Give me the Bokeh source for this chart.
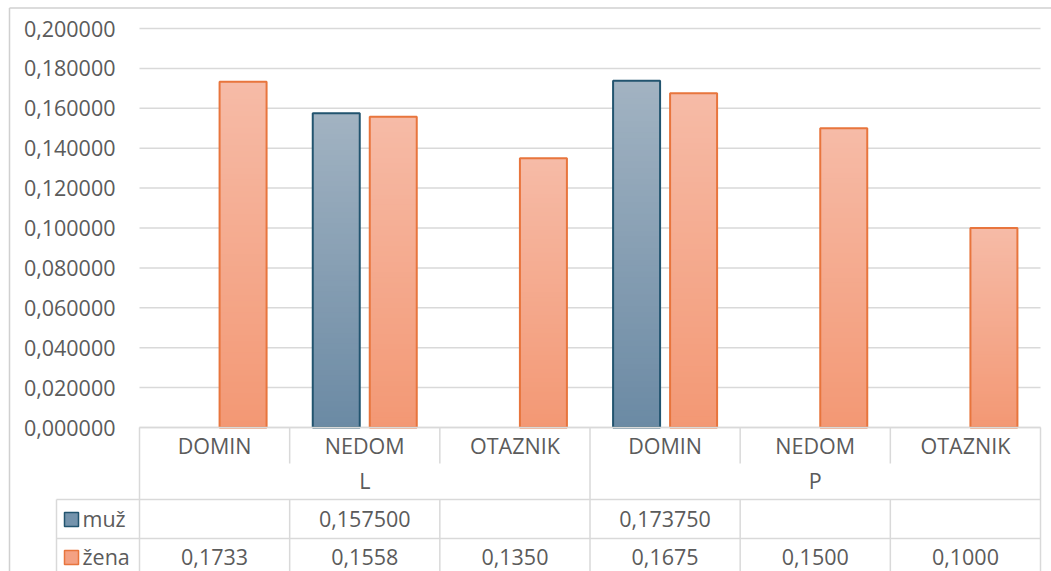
import numpy as np
from bokeh.plotting import figure
from bokeh.models import ColumnDataSource, Range1d
from bokeh.core.properties import value
from bokeh.embed import file_html
from bokeh.resources import INLINE

# ---------------- data ----------------
groups = ["L", "P"]
categories = ["DOMIN", "NEDOM", "OTAZNIK", "DOMIN", "NEDOM", "OTAZNIK"]
series_names = ["muž", "žena"]
muz = [np.nan, 0.157500, np.nan, 0.173750, np.nan, np.nan]
zena = [0.1733, 0.1558, 0.1350, 0.1675, 0.1500, 0.1000]
table_decimals = [6, 4]
y_ticks = [0.00, 0.02, 0.04, 0.06, 0.08, 0.10, 0.12, 0.14, 0.16, 0.18, 0.20]
y_tick_labels = ["0,000000", "0,020000", "0,040000", "0,060000", "0,080000",
                 "0,100000", "0,120000", "0,140000", "0,160000", "0,180000",
                 "0,200000"]

# ---------------- layout / style ----------------
W, H = 1051, 571
PLOT_LEFT, PLOT_RIGHT = 139, 1040      # px in canvas
PLOT_TOP, PLOT_ZERO = 28, 427          # px of y=0.2 and y=0
n = len(categories)
per_group = n // len(groups)
PX = (PLOT_RIGHT - PLOT_LEFT) / n      # px per column unit
PY = (PLOT_ZERO - PLOT_TOP) / y_ticks[-1]  # px per value unit


def dx(px):
    return px / PX


def dy(px):
    return px / PY


x_start, x_end = -dx(PLOT_LEFT), n + dx(W - PLOT_RIGHT)
y_top, y_bot = y_ticks[-1] + dy(PLOT_TOP), -dy(H - PLOT_ZERO)

FONT = value("Open Sans")
FSIZE = "21.5px"
TXT = "#5b5b5b"
GRID = "#d9d9d9"

series_style = [
    dict(bottom="#6b8aa4", top="#a2b3c2", line="#22546f", legend="#7493ac"),
    dict(bottom="#f39874", top="#f6bba7", line="#e8753d", legend="#f4a183"),
]
series_vals = [muz, zena]
BAR_W = dx(47)
OFFS = [-dx(28.5), dx(28.5)]

p = figure(width=W, height=H, x_range=Range1d(x_start, x_end),
           y_range=Range1d(y_bot, y_top), x_axis_location=None,
           y_axis_location=None, min_border=0, toolbar_location=None,
           output_backend="svg", outline_line_color=None,
           background_fill_color="white", border_fill_color="white")
p.xgrid.visible = False
p.ygrid.visible = False

# outer chart border (top + left)
bx = x_start + dx(9)
byt = y_top - dy(7.5)
p.segment(x0=[bx, bx], y0=[byt, byt], x1=[x_end, bx], y1=[byt, y_bot],
          line_color="#d0d0d0", line_width=1.5)

# gridlines
p.segment(x0=[0] * len(y_ticks), y0=y_ticks, x1=[n] * len(y_ticks), y1=y_ticks,
          line_color=GRID, line_width=1.5)

# y tick labels
p.text(x=[-dx(24)] * len(y_ticks), y=y_ticks, text=y_tick_labels,
       text_align="right", text_baseline="middle", text_font=FONT,
       text_font_size=FSIZE, text_color=TXT)


# bars with vertical gradient
def hex2rgb(h):
    h = h.lstrip("#")
    return np.array([int(h[i:i + 2], 16) for i in (0, 2, 4)], dtype=float)


NB = 60
for s, (vals, st, off) in enumerate(zip(series_vals, series_style, OFFS)):
    c0, c1 = hex2rgb(st["bottom"]), hex2rgb(st["top"])
    xs, bots, tops, cols = [], [], [], []
    ox, ot = [], []
    for i, v in enumerate(vals):
        if v is None or np.isnan(v):
            continue
        for k in range(NB):
            t = (k + 0.5) / NB
            c = c0 + (c1 - c0) * t
            xs.append(i + 0.5 + off)
            bots.append(v * k / NB)
            tops.append(min(v, v * (k + 1) / NB + dy(1.5)))
            cols.append("#%02x%02x%02x" % tuple(int(round(q)) for q in c))
        ox.append(i + 0.5 + off)
        ot.append(v)
    src = ColumnDataSource(dict(x=xs, bottom=bots, top=tops, color=cols))
    p.vbar(x="x", bottom="bottom", top="top", width=BAR_W, source=src,
           fill_color="color", line_color=None)
    p.vbar(x=ox, bottom=0, top=ot, width=BAR_W, fill_color=None,
           line_color=st["line"], line_width=2)

# ---------------- data table ----------------
row1 = -dy(36)    # bottom of category row
row2 = -dy(72)    # bottom of group row
row3 = -dy(111)   # bottom of first series row
leg_left = -dx(83)

x0, y0, x1, y1 = [], [], [], []
for i in range(n + 1):
    if i % per_group == 0:
        x0.append(i); y0.append(0); x1.append(i); y1.append(y_bot)
    else:
        x0 += [i, i]; y0 += [0, row2]; x1 += [i, i]; y1 += [row1, y_bot]
x0 += [0, leg_left, leg_left, leg_left]
y0 += [0, row2, row3, row2]
x1 += [n, n, n, leg_left]
y1 += [0, row2, row3, y_bot]
p.segment(x0=x0, y0=y0, x1=x1, y1=y1, line_color=GRID, line_width=1.5)

# category labels
p.text(x=[i + 0.5 for i in range(n)], y=[-dy(18)] * n, text=categories,
       text_align="center", text_baseline="middle", text_font=FONT,
       text_font_size=FSIZE, text_color=TXT)
# group labels
p.text(x=[g * per_group + per_group / 2 for g in range(len(groups))],
       y=[-dy(53)] * len(groups), text=groups, text_align="center",
       text_baseline="middle", text_font=FONT, text_font_size=FSIZE,
       text_color=TXT)

row_y = [-dy(91), -dy(129)]
for s, (vals, dec, st) in enumerate(zip(series_vals, table_decimals, series_style)):
    tx, tt = [], []
    for i, v in enumerate(vals):
        if v is None or np.isnan(v):
            continue
        tx.append(i + 0.5)
        tt.append(f"{v:.{dec}f}".replace(".", ","))
    p.text(x=tx, y=[row_y[s]] * len(tx), text=tt, text_align="center",
           text_baseline="middle", text_font=FONT, text_font_size=FSIZE,
           text_color=TXT)
    p.scatter(x=[-dx(68)], y=[row_y[s] - dy(1)], marker="square", size=14,
              fill_color=st["legend"], line_color=st["line"], line_width=1.5)
    p.text(x=[-dx(57)], y=[row_y[s]], text=[series_names[s]],
           text_align="left", text_baseline="middle", text_font=FONT,
           text_font_size=FSIZE, text_color=TXT)

open("out.html", "w").write(file_html(p, INLINE))
